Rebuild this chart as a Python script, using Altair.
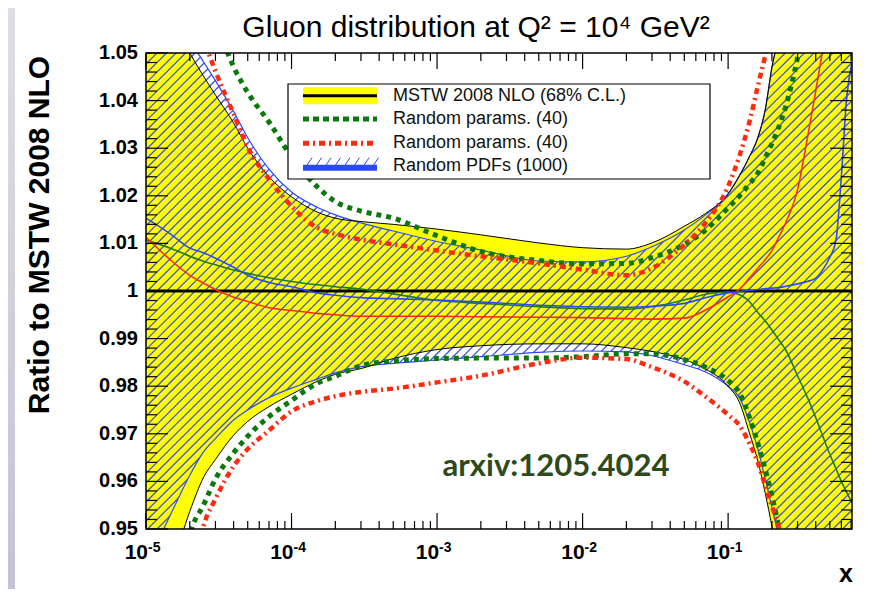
import altair as alt
import pandas as pd

# ---------------- data ----------------
X = [1e-5, 1.5e-5, 2e-5, 2.5e-5, 3e-5, 4e-5, 5e-5, 7e-5, 1e-4, 1.5e-4, 2e-4, 3e-4, 5e-4,
     1e-3, 2e-3, 5e-3, 1e-2, 2e-2, 3e-2, 5e-2, 7e-2, 0.1, 0.12, 0.14, 0.16, 0.18, 0.2,
     0.22, 0.25, 0.3, 0.35, 0.4, 0.45, 0.5, 0.55, 0.6, 0.65, 0.71]

MSTW_UP = [1.068, 1.057, 1.0500, 1.0450, 1.0412, 1.0353, 1.0300, 1.0240,
           1.0198, 1.0166, 1.0153, 1.0146, 1.0140, 1.0130, 1.0118, 1.0101,
           1.0091, 1.0088, 1.0101, 1.0136, 1.0163, 1.0204, 1.0243, 1.0282,
           1.0322, 1.0381, 1.0470, 1.0530, 1.065, 1.085, 1.105, 1.125, 1.145,
           1.165, 1.185, 1.205, 1.225, 1.245]
MSTW_LO = [0.928, 0.942, 0.9537, 0.9610, 0.9646, 0.9697, 0.9726, 0.9757,
           0.9783, 0.9810, 0.9825, 0.9837, 0.9858, 0.9877, 0.9885, 0.9889,
           0.9889, 0.9881, 0.9873, 0.9856, 0.9836, 0.9800, 0.9765, 0.9702,
           0.9643, 0.9575, 0.9506, 0.9440, 0.935, 0.920, 0.905, 0.890, 0.875,
           0.860, 0.845, 0.830, 0.815, 0.798]
BLUE_UP = [1.068, 1.060, 1.0528, 1.0480, 1.0442, 1.0377, 1.0322, 1.0256,
           1.0208, 1.0176, 1.0160, 1.0143, 1.0126, 1.0104, 1.0086, 1.0063,
           1.0061, 1.0073, 1.0093, 1.0128, 1.0160, 1.0204, 1.0243, 1.0282,
           1.0322, 1.0381, 1.0470, 1.0530, 1.065, 1.085, 1.105, 1.125, 1.145,
           1.165, 1.185, 1.205, 1.225, 1.245]
BLUE_LO = [0.942, 0.9535, 0.9613, 0.9663, 0.9690, 0.9729, 0.9750, 0.9776,
           0.9796, 0.9815, 0.9828, 0.9841, 0.9848, 0.9855, 0.9862, 0.9871,
           0.9874, 0.9872, 0.9864, 0.9845, 0.9830, 0.9800, 0.9775, 0.9725,
           0.9668, 0.9605, 0.9545, 0.9490, 0.940, 0.925, 0.910, 0.895, 0.880,
           0.865, 0.850, 0.835, 0.820, 0.803]
GREEN_UP = [1.100, 1.085, 1.073, 1.064, 1.057, 1.0471, 1.0417, 1.0355,
            1.0282, 1.0219, 1.0188, 1.0168, 1.0153, 1.0116, 1.0083, 1.0064,
            1.0057, 1.0058, 1.0070, 1.0098, 1.0128, 1.0175, 1.0200, 1.0225,
            1.0248, 1.0280, 1.0310, 1.0340, 1.0390, 1.0490, 1.060, 1.070,
            1.080, 1.090, 1.100, 1.110, 1.120, 1.130]
GREEN_LO = [0.900, 0.922, 0.9485, 0.9552, 0.9605, 0.9660, 0.9695, 0.9736,
            0.9770, 0.9806, 0.9821, 0.9843, 0.9853, 0.9858, 0.9859, 0.9859,
            0.9862, 0.9868, 0.9868, 0.9856, 0.9840, 0.9812, 0.9785, 0.9735,
            0.9680, 0.9625, 0.9570, 0.9512, 0.943, 0.930, 0.915, 0.900, 0.885,
            0.870, 0.855, 0.840, 0.825, 0.808]
RED_UP = [1.090, 1.075, 1.062, 1.0527, 1.0462, 1.0372, 1.0302, 1.0235,
          1.0178, 1.0133, 1.0120, 1.0108, 1.0098, 1.0085, 1.0073, 1.0058,
          1.0045, 1.0033, 1.0048, 1.0097, 1.0143, 1.0220, 1.0285, 1.0355,
          1.0430, 1.0495, 1.056, 1.063, 1.075, 1.095, 1.115, 1.135, 1.155,
          1.175, 1.195, 1.215, 1.235, 1.255]
RED_LO = [0.910, 0.925, 0.937, 0.9509, 0.9563, 0.9632, 0.9668, 0.9707,
          0.9747, 0.9769, 0.9779, 0.9788, 0.9795, 0.9808, 0.9822, 0.9848,
          0.9860, 0.9857, 0.9840, 0.9810, 0.9778, 0.9740, 0.9717, 0.9680,
          0.9640, 0.9590, 0.9548, 0.9510, 0.944, 0.930, 0.915, 0.900, 0.885,
          0.870, 0.855, 0.840, 0.825, 0.808]
RED_C = [1.0113, 1.0063, 1.0033, 1.0016, 1.0003, 0.9987, 0.9978, 0.9965,
         0.9959, 0.9953, 0.9950, 0.9947, 0.9947, 0.9947, 0.9946, 0.9945,
         0.9944, 0.9942, 0.9941, 0.9943, 0.9960, 0.9988, 1.0004, 1.0027,
         1.0048, 1.0066, 1.0085, 1.0110, 1.0145, 1.0213, 1.0320, 1.0420,
         1.0515, 1.0620, 1.0720, 1.0820, 1.0920, 1.1000]
GREEN_C = [1.0107, 1.0089, 1.0073, 1.0062, 1.0055, 1.0044, 1.0037, 1.0028,
           1.0020, 1.0013, 1.0009, 1.0004, 0.9994, 0.9980, 0.9974, 0.9967,
           0.9963, 0.9962, 0.9967, 0.9981, 0.9993, 0.9998, 0.9992, 0.9978,
           0.9955, 0.9937, 0.9918, 0.9900, 0.9875, 0.9822, 0.9777, 0.9734,
           0.9693, 0.9657, 0.9627, 0.9600, 0.9578, 0.9555]
BLUE_C = [1.0153, 1.0118, 1.0090, 1.0080, 1.0069, 1.0050, 1.0033, 1.0018,
          1.0009, 0.9996, 0.9991, 0.9986, 0.9984, 0.9981, 0.9977, 0.9970,
          0.9967, 0.9966, 0.9968, 0.9974, 0.9986, 0.9996, 0.9999, 1.0001,
          1.0003, 1.0005, 1.0006, 1.0007, 1.0010, 1.0015, 1.0020, 1.0027,
          1.0046, 1.0071, 1.0105, 1.0240, 1.0400, 1.0480]

Y_TICKS = [0.95, 0.96, 0.97, 0.98, 0.99, 1.00, 1.01, 1.02, 1.03, 1.04, 1.05]
Y_LABELS = ["0.95", "0.96", "0.97", "0.98", "0.99", "1", "1.01", "1.02", "1.03", "1.04", "1.05"]
X_TICKS = [1e-5, 1e-4, 1e-3, 1e-2, 1e-1]
X_EXPS = ["-5", "-4", "-3", "-2", "-1"]
LEGEND = ["MSTW 2008 NLO (68% C.L.)", "Random params. (40)", "Random params. (40)", "Random PDFs (1000)"]
TITLE = "Gluon distribution at Q\u00b2 = 10\u2074 GeV\u00b2"
YTITLE = "Ratio to MSTW 2008 NLO"
NOTE = "arxiv:1205.4024"

# ---------------- layout / style ----------------
W, H = 706, 476
XLO, XHI = 1e-5, 0.71
YLO, YHI = 0.95, 1.05
FONT = "Liberation Sans"
YELLOW = "#ffff00"
HATCH = "#3f55d6"
BLUE = "#2a48ff"
GREEN = "#0c780c"
RED = "#ff2a10"

xs = alt.Scale(type="log", domain=[XLO, XHI], nice=False)
ys = alt.Scale(type="linear", domain=[YLO, YHI], nice=False, zero=False)


def ex(f):
    return alt.X(f + ":Q", scale=xs, axis=None)


def ey(f):
    return alt.Y(f + ":Q", scale=ys, axis=None)


df = pd.DataFrame({"x": X, "mstw_up": MSTW_UP, "mstw_lo": MSTW_LO,
                   "blue_up": BLUE_UP, "blue_lo": BLUE_LO,
                   "green_up": GREEN_UP, "green_lo": GREEN_LO,
                   "red_up": RED_UP, "red_lo": RED_LO,
                   "red_c": RED_C, "green_c": GREEN_C, "blue_c": BLUE_C})
base = alt.Chart(df)
one = alt.Chart(pd.DataFrame({"k": [0]}))

layers = []

# left grey frame strip of the slide
layers.append(one.mark_rect(fill=alt.LinearGradient(
    gradient="linear",
    stops=[alt.GradientStop(color="#dedee3", offset=0), alt.GradientStop(color="#c3c3d5", offset=1)],
    x1=0, x2=0, y1=0, y2=1)).encode(
    x=alt.value(-138), x2=alt.value(-131), y=alt.value(-45), y2=alt.value(H + 60)))

# yellow MSTW band
layers.append(base.mark_area(color=YELLOW, interpolate="monotone", clip=True).encode(
    x=ex("x"), y=ey("mstw_lo"), y2=alt.Y2("mstw_up")))

# hatch pattern (45 degree lines), later masked to the blue band
HATCH_STEP = 0.002
SPAN = (YHI - YLO) * W / H
n = int((YHI - YLO + SPAN) / HATCH_STEP) + 2
starts = [YLO - SPAN + i * HATCH_STEP for i in range(n)]
hatch_df = pd.DataFrame({"x0": [XLO] * n, "x1": [XHI] * n,
                         "y0": starts, "y1": [s + SPAN for s in starts]})
layers.append(alt.Chart(hatch_df).mark_rule(color=HATCH, strokeWidth=1.3, clip=True).encode(
    x=ex("x0"), x2=alt.X2("x1"), y=ey("y0"), y2=alt.Y2("y1")))

# masks outside blue band
layers.append(base.transform_calculate(top="1.5").mark_area(
    color="white", interpolate="monotone", clip=True).encode(
    x=ex("x"), y=ey("blue_up"), y2=alt.Y2("top")))
layers.append(base.transform_calculate(bot="0.5").mark_area(
    color="white", interpolate="monotone", clip=True).encode(
    x=ex("x"), y=ey("bot"), y2=alt.Y2("blue_lo")))
# restore yellow where MSTW band is wider than blue band
layers.append(base.transform_calculate(yu="max(datum.blue_up, datum.mstw_up)").mark_area(
    color=YELLOW, interpolate="monotone", clip=True).encode(
    x=ex("x"), y=ey("blue_up"), y2=alt.Y2("yu")))
layers.append(base.transform_calculate(yl="min(datum.blue_lo, datum.mstw_lo)").mark_area(
    color=YELLOW, interpolate="monotone", clip=True).encode(
    x=ex("x"), y=ey("yl"), y2=alt.Y2("blue_lo")))


def line(field, color, width, dash=None):
    kw = dict(color=color, strokeWidth=width, interpolate="monotone", clip=True)
    if dash:
        kw["strokeDash"] = dash
        kw["strokeCap"] = "butt"
    return base.mark_line(**kw).encode(x=ex("x"), y=ey(field))


layers += [line("blue_up", BLUE, 1.2), line("blue_lo", BLUE, 1.2),
           line("mstw_up", "black", 1.0), line("mstw_lo", "black", 1.0),
           line("green_up", GREEN, 5, [5, 5]), line("green_lo", GREEN, 5, [5, 5]),
           line("red_up", RED, 4.5, [6, 4, 2, 4]), line("red_lo", RED, 4.5, [6, 4, 2, 4])]

# line at 1
layers.append(alt.Chart(pd.DataFrame({"one": [1.0]})).mark_rule(color="black", strokeWidth=3).encode(
    y=ey("one"), x=alt.value(0), x2=alt.value(W)))

layers += [line("green_c", "#1f7a1f", 1.6), line("red_c", RED, 1.6), line("blue_c", BLUE, 1.6)]

# ticks
y_minor = [round(YLO + 0.002 * i, 3) for i in range(51) if i % 5 != 0]
x_minor = [k * 10.0 ** e for e in range(-5, 0) for k in range(2, 10) if k * 10.0 ** e <= XHI]
ymaj = alt.Chart(pd.DataFrame({"v": Y_TICKS}))
ymin = alt.Chart(pd.DataFrame({"v": y_minor}))
xmaj = alt.Chart(pd.DataFrame({"v": X_TICKS}))
xmin = alt.Chart(pd.DataFrame({"v": x_minor}))
tk = dict(color="black", strokeWidth=1.2)
layers += [
    ymaj.mark_rule(**tk).encode(y=ey("v"), x=alt.value(0), x2=alt.value(22)),
    ymin.mark_rule(**tk).encode(y=ey("v"), x=alt.value(0), x2=alt.value(11)),
    ymaj.mark_rule(**tk).encode(y=ey("v"), x=alt.value(W), x2=alt.value(W - 22)),
    ymin.mark_rule(**tk).encode(y=ey("v"), x=alt.value(W), x2=alt.value(W - 11)),
    xmaj.mark_rule(**tk).encode(x=ex("v"), y=alt.value(H), y2=alt.value(H - 16)),
    xmin.mark_rule(**tk).encode(x=ex("v"), y=alt.value(H), y2=alt.value(H - 8)),
    xmaj.mark_rule(**tk).encode(x=ex("v"), y=alt.value(0), y2=alt.value(16)),
    xmin.mark_rule(**tk).encode(x=ex("v"), y=alt.value(0), y2=alt.value(8)),
]

# frame
layers.append(one.mark_rect(filled=False, stroke="black", strokeWidth=1.5).encode(
    x=alt.value(0), x2=alt.value(W), y=alt.value(0), y2=alt.value(H)))

# tick labels
layers.append(alt.Chart(pd.DataFrame({"v": Y_TICKS, "lab": Y_LABELS})).mark_text(
    font=FONT, fontSize=20, fontWeight="bold", align="right", baseline="middle", dx=-8).encode(
    y=ey("v"), x=alt.value(0), text="lab:N"))
xl = alt.Chart(pd.DataFrame({"v": X_TICKS, "e": X_EXPS}))
layers.append(xl.mark_text(font=FONT, fontSize=21, fontWeight="bold", align="right",
                           baseline="middle", dx=2).encode(
    x=ex("v"), y=alt.value(H + 24), text=alt.value("10")))
layers.append(xl.mark_text(font=FONT, fontSize=14, fontWeight="bold", align="left",
                           baseline="middle", dx=2).encode(
    x=ex("v"), y=alt.value(H + 19), text="e:N"))

# titles
layers.append(one.mark_text(font=FONT, fontSize=30, align="center", baseline="middle").encode(
    x=alt.value(330), y=alt.value(-25), text=alt.value(TITLE)))
layers.append(one.mark_text(font=FONT, fontSize=30, fontWeight="bold", align="center",
                            baseline="middle", angle=270).encode(
    x=alt.value(-106), y=alt.value(182), text=alt.value(YTITLE)))
layers.append(one.mark_text(font=FONT, fontSize=25, fontWeight="bold", align="center",
                            baseline="middle").encode(
    x=alt.value(700), y=alt.value(521), text=alt.value("x")))
layers.append(one.mark_text(font="Lato", fontSize=31, fontWeight="bold", color="#2e4a1c",
                            align="center", baseline="middle").encode(
    x=alt.value(410), y=alt.value(414), text=alt.value(NOTE)))

# legend
LX0, LX1, LT = 157, 231, 247
ROWS = [42.7, 66, 90.3, 112.7]
layers.append(one.mark_rect(fill="white", stroke="black", strokeWidth=1.2).encode(
    x=alt.value(142), x2=alt.value(564), y=alt.value(31), y2=alt.value(126)))
layers.append(one.mark_rect(fill=YELLOW).encode(
    x=alt.value(LX0), x2=alt.value(LX1), y=alt.value(ROWS[0] - 8.5), y2=alt.value(ROWS[0] + 8.5)))
layers.append(one.mark_rule(color="black", strokeWidth=3).encode(
    x=alt.value(LX0), x2=alt.value(LX1), y=alt.value(ROWS[0])))
layers.append(one.mark_rule(color=GREEN, strokeWidth=5, strokeDash=[6, 4], strokeCap="butt").encode(
    x=alt.value(LX0), x2=alt.value(LX1), y=alt.value(ROWS[1])))
layers.append(one.mark_rule(color=RED, strokeWidth=5, strokeDash=[6, 4, 2, 4], strokeCap="butt").encode(
    x=alt.value(LX0), x2=alt.value(LX1), y=alt.value(ROWS[2])))
layers.append(one.mark_rule(color=BLUE, strokeWidth=6).encode(
    x=alt.value(LX0), x2=alt.value(LX1), y=alt.value(ROWS[3] + 2)))
for i in range(8):
    sx = LX0 + 3 + i * 9.5
    layers.append(one.mark_rule(color=BLUE, strokeWidth=1).encode(
        x=alt.value(sx), x2=alt.value(sx + 6), y=alt.value(ROWS[3] + 1), y2=alt.value(ROWS[3] - 8)))
layers.append(alt.Chart(pd.DataFrame({"lab": LEGEND, "y": ROWS})).mark_text(
    font=FONT, fontSize=18, align="left", baseline="middle", color="#111111").encode(
    x=alt.value(LT), y=alt.Y("y:Q", scale=None, axis=None), text="lab:N"))

chart = alt.layer(*layers).properties(
    width=W, height=H,
    padding={"left": 138, "top": 45, "right": 14, "bottom": 60},
    autosize=alt.AutoSizeParams(type="none"),
    background="white",
).configure_view(stroke=None)

chart.save("out.html", embed_options={"renderer": "svg", "actions": False})
